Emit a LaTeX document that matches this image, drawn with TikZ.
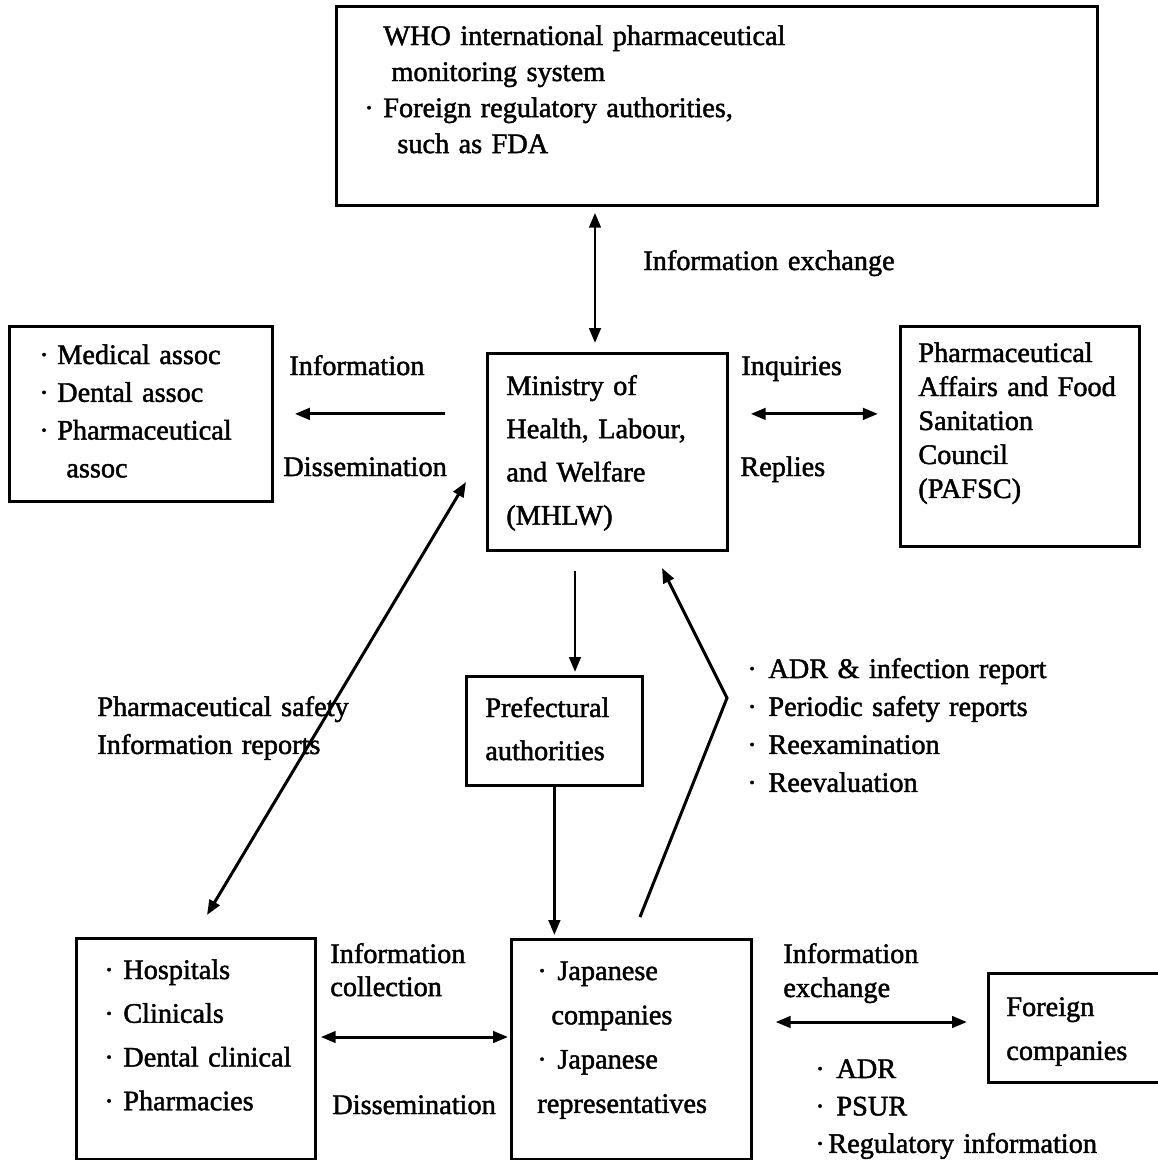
\documentclass[tikz,border=0pt]{standalone}
\usepackage{fontspec}
\setmainfont{Liberation Serif}[UprightFeatures={FakeBold=1.6}, WordSpace=0.8]
\usetikzlibrary{arrows.meta}
\newcommand\bul[1][10.8pt]{\makebox[#1][l]{·}}
\tikzset{
  box/.style={draw, line width=1.6pt, anchor=north west, inner sep=0pt},
  txt/.style={anchor=base west, inner sep=0pt, align=left, text width=12cm,
              font=\fontsize{16.1pt}{#1}\selectfont},
  txt/.default=20pt,
  arr/.style={line width=1.7pt, -{Triangle[length=8.5pt,width=6.5pt]}},
  dbl/.style={line width=1.7pt, {Triangle[length=8.5pt,width=6.5pt]}-{Triangle[length=8.5pt,width=6.5pt]}}
}
\begin{document}
\begin{tikzpicture}[x=0.02cm,y=-0.02cm]
\useasboundingbox (0,0) rectangle (1158,1160);
\fill[white] (0,0) rectangle (1158,1160);

% boxes
\node[box, minimum width=15.22cm, minimum height=3.98cm] (who) at (335,5) {};
\node[box, minimum width=5.26cm, minimum height=3.50cm] (med) at (8,325) {};
\node[box, minimum width=4.80cm, minimum height=3.94cm] (mhlw) at (486,352) {};
\node[box, minimum width=4.78cm, minimum height=4.40cm] (pafsc) at (899,325) {};
\node[box, minimum width=3.52cm, minimum height=2.18cm] (pref) at (465,675) {};
\node[box, minimum width=4.78cm, minimum height=4.42cm] (hosp) at (75,937) {};
\node[box, minimum width=4.80cm, minimum height=4.40cm] (japan) at (510,938) {};
\node[box, minimum width=3.56cm, minimum height=2.18cm] (foreign) at (987,972) {};

% box texts
\node[txt=20.5pt] (whot) at (364,45) {\hspace*{10.8pt}WHO international pharmaceutical\\
  \hspace*{15.4pt}monitoring system\\
  \bul Foreign regulatory authorities,\\
  \hspace*{18.8pt}such as FDA};
\node[txt=21.5pt] (medt) at (39,364) {\bul[10.2pt]Medical assoc\\
  \bul[10.2pt]Dental assoc\\
  \bul[10.2pt]Pharmaceutical\\
  \hspace*{15.4pt}assoc};
\node[txt=24.6pt] (mhlwt) at (506,395) {Ministry of\\Health, Labour,\\and Welfare\\(MHLW)};
\node[txt=19.35pt] (pafsct) at (918,362) {Pharmaceutical\\Affairs and Food\\Sanitation\\Council\\(PAFSC)};
\node[txt=24.5pt] (preft) at (485,717) {Prefectural\\authorities};
\node[txt=24.9pt] (hospt) at (104,979) {\bul Hospitals\\\bul Clinicals\\\bul Dental clinical\\\bul Pharmacies};
\node[txt=25.2pt] (japant) at (537,980) {\bul[11.4pt]Japanese\\
  \hspace*{8pt}companies\\
  \bul[11.4pt]Japanese\\
  representatives};
\node[txt=25pt] (foreignt) at (1006,1016) {Foreign\\companies};

% labels
\node[txt] (l1) at (643,270) {Information exchange};
\node[txt] (l2) at (289,375) {Information};
\node[txt] (l3) at (283,476) {Dissemination};
\node[txt] (l4) at (741,375) {Inquiries};
\node[txt] (l5) at (740,476) {Replies};
\node[txt=21.6pt] (l6) at (97,716) {Pharmaceutical safety\\Information reports};
\node[txt=21.6pt] (l7) at (747,678) {\bul[12pt]ADR \& infection report\\
  \bul[12pt]Periodic safety reports\\
  \bul[12pt]Reexamination\\
  \bul[12pt]Reevaluation};
\node[txt=18.8pt] (l8) at (330,963) {Information\\collection};
\node[txt] (l9) at (332,1114) {Dissemination};
\node[txt=19.35pt] (l10) at (783,963) {Information\\exchange};
\node[txt=21.3pt] (l11) at (815,1078) {\bul[12pt]ADR\\
  \bul[12pt]PSUR\\
  \bul[7.4pt]Regulatory information};

% connectors
\coordinate (vx1) at (595,0);
\coordinate (vx2) at (575,0);
\coordinate (hy1) at (0,1037);
\coordinate (hy2) at (0,1022);
\coordinate (d1) at (466,482);
\coordinate (d2) at (207,915);
\coordinate (r1) at (640,917);
\coordinate (r2) at (727,698);
\coordinate (r3) at (662,568);

\draw[dbl, shorten <=3.4pt, shorten >=5.1pt] (who.south -| vx1) -- (mhlw.north -| vx1);
\draw[arr, shorten <=23.3pt, shorten >=12pt] (mhlw.west |- med.east) -- (med.east);
\draw[dbl, shorten <=12.5pt, shorten >=12pt] (mhlw.east |- med.east) -- (pafsc.west |- med.east);
\draw[arr, shorten <=10.8pt, shorten >=1.7pt] (mhlw.south -| vx2) -- (pref.north -| vx2);
\draw[arr, shorten >=1.7pt] (pref.south) -- (japan.north -| pref.south);
\draw[dbl] (d1) -- (d2);
\draw[arr] (r1) -- (r2) -- (r3);
\draw[dbl, shorten <=2.3pt, shorten >=1.1pt] (hosp.east |- hy1) -- (japan.west |- hy1);
\draw[dbl, shorten <=13pt, shorten >=11.4pt] (japan.east |- hy2) -- (foreign.west |- hy2);
\end{tikzpicture}
\end{document}
